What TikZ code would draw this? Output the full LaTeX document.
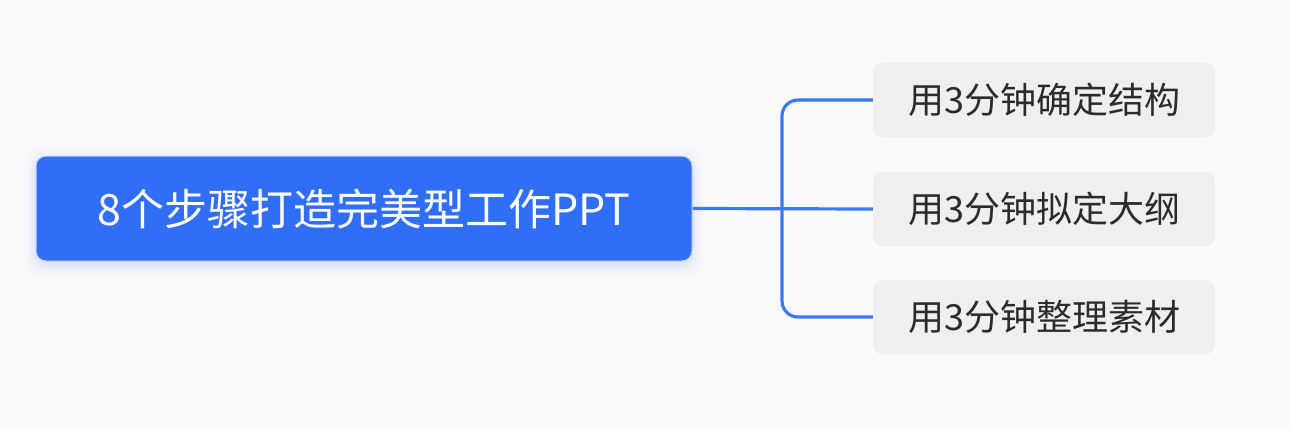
\documentclass[tikz,border=0pt]{standalone}
\usepackage{fontspec}
\setmainfont{Noto Sans CJK SC}
\definecolor{bgcol}{HTML}{FAFAFC}
\definecolor{maincol}{HTML}{316EF6}
\definecolor{glowcol}{HTML}{9DB8F5}
\definecolor{subcol}{HTML}{EFEFF2}
\definecolor{linecol}{HTML}{3A7AF0}
\definecolor{txtcol}{HTML}{2B2B2B}
\tikzset{
  topic/.style={fill=maincol,draw=glowcol!60,line width=1pt,rounded corners=10pt,minimum width=656pt,minimum height=105pt,text=white,font=\fontsize{43}{45}\selectfont,inner sep=0pt},
  subtopic/.style={fill=subcol,rounded corners=9pt,minimum width=342pt,minimum height=74pt,text=txtcol,font=\fontsize{36}{38}\selectfont,inner sep=0pt},
  link/.style={draw=linecol,line width=3.2pt}
}
\begin{document}
\begin{tikzpicture}[x=1pt,y=-1pt]
				\useasboundingbox[fill=bgcol](0,0)rectangle(1290,428);
				% soft glow behind the main topic
				\foreach \g/\o in {12/0.03,8/0.05,5/0.08,2/0.12}
				  \fill[glowcol,opacity=\o,rounded corners=14pt](36-\g,156-\g+4)rectangle(692+\g,261+\g+4);
				\node[topic](main)at(364,208.5){8个步骤打造完美型工作PPT};
				\node[subtopic](s1)at(1044,100){用3分钟确定结构};
				\node[subtopic](s2)at(1044,209){用3分钟拟定大纲};
				\node[subtopic](s3)at(1044,317){用3分钟整理素材};
				\coordinate(fork)at(782,209);
				\draw[link](main.east)--(s2.west);
				\draw[link,rounded corners=16pt](s1.west)--(s1.west-|fork)--(s3.west-|fork)--(s3.west);
				\end{tikzpicture}
\end{document}
